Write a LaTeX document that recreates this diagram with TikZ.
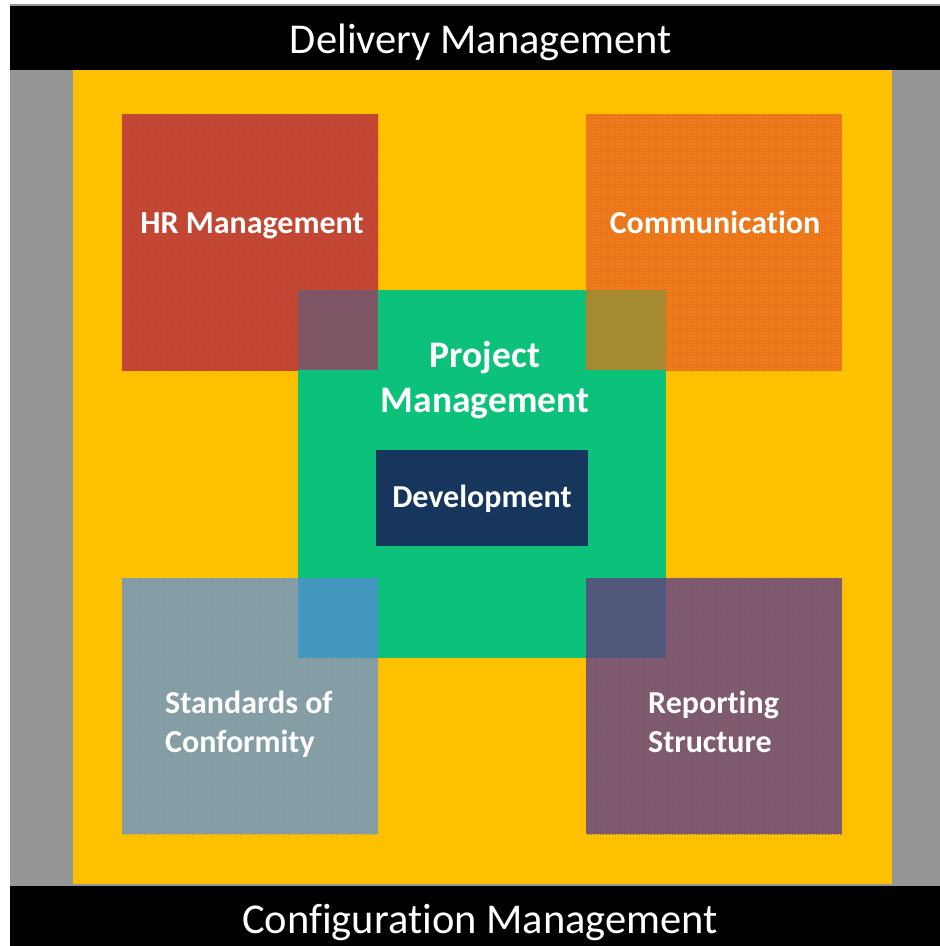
\documentclass[tikz,border=0pt]{standalone}
\usepackage{fontspec}
\setmainfont{Carlito}[Ligatures=NoCommon]
\usetikzlibrary{patterns}
\definecolor{pmGray}{HTML}{969696}
\definecolor{pmGold}{HTML}{FFC000}
\definecolor{pmGreen}{HTML}{0CC179}
\definecolor{pmNavy}{HTML}{17365D}
\definecolor{pmRed}{HTML}{BF4336}
\definecolor{pmOrange}{HTML}{EB7F1C}
\definecolor{pmSlate}{HTML}{86A0A8}
\definecolor{pmPlum}{HTML}{7E606D}
\definecolor{pmRedMix}{HTML}{7E5666}
\definecolor{pmOrangeMix}{HTML}{A68A30}
\definecolor{pmSlateMix}{HTML}{4497BF}
\definecolor{pmPlumMix}{HTML}{52577C}
\tikzset{
  pm bar/.style={fill=black},
  pm weave/.style={pattern=grid, pattern color=#1},
  pm title/.style={font=\fontsize{42.5}{51}\selectfont, text=white, inner sep=0pt},
  pm label/.style={font=\bfseries\fontsize{32}{39}\selectfont, text=white, inner sep=0pt},
  pm big label/.style={font=\bfseries\fontsize{37.5}{45}\selectfont, text=white, inner sep=0pt, align=center},
  pm two lines/.style={pm label, align=left},
}

\begin{document}
\begin{tikzpicture}[x=1pt, y=-1pt]
  \useasboundingbox (0,0) rectangle (940,946);
  % ----- frame: gray back, black bars, gold field -----
  \fill[pmGray] (10,4) rectangle (940,946);
  \fill[pm bar] (10,6) rectangle (940,70);
  \fill[pm bar] (10,886) rectangle (940,946);
  \fill[pmGold] (73,70) rectangle (892,884);
  % ----- four corner squares -----
  \fill[pmRed] (122,114) rectangle (378,370);
  \fill[pmOrange] (586,114) rectangle (842,370);
  \fill[pmSlate] (122,578) rectangle (378,834);
  \fill[pmPlum] (586,578) rectangle (842,834);
  \fill[pm weave=pmRed!90!orange] (122,114) rectangle (378,370);
  \fill[pm weave=pmOrange!90!red] (586,114) rectangle (842,370);
  \fill[pm weave=pmSlate!85!gray] (122,578) rectangle (378,834);
  \fill[pm weave=pmPlum!90!violet] (586,578) rectangle (842,834);
  % ----- centre square and its overlaps -----
  \fill[pmGreen] (298,290) rectangle (666,658);
  \fill[pmRedMix] (298,290) rectangle (378,370);
  \fill[pmOrangeMix] (586,290) rectangle (666,370);
  \fill[pmSlateMix] (298,578) rectangle (378,658);
  \fill[pmPlumMix] (586,578) rectangle (666,658);
  \fill[pmNavy] (376,450) rectangle (588,546);
  % ----- texts -----
  \node[pm title, anchor=base] (delivery) at (481,53) {Delivery Management};
  \node[pm title, anchor=base] (config) at (480,933) {Configuration Management};
  \node[pm label, anchor=base] (hr) at (252,233) {HR Management};
  \node[pm label, anchor=base] (comm) at (715,233) {Communication};
  \node[pm big label, anchor=base] (project) at (485,412) {Project\\Management};
  \node[pm label, anchor=base] (dev) at (482,507) {Development};
  \node[pm two lines, anchor=base west] (standards) at (165,752) {Standards of\\Conformity};
  \node[pm two lines, anchor=base west] (reporting) at (648,752) {Reporting\\Structure};
\end{tikzpicture}
\end{document}
